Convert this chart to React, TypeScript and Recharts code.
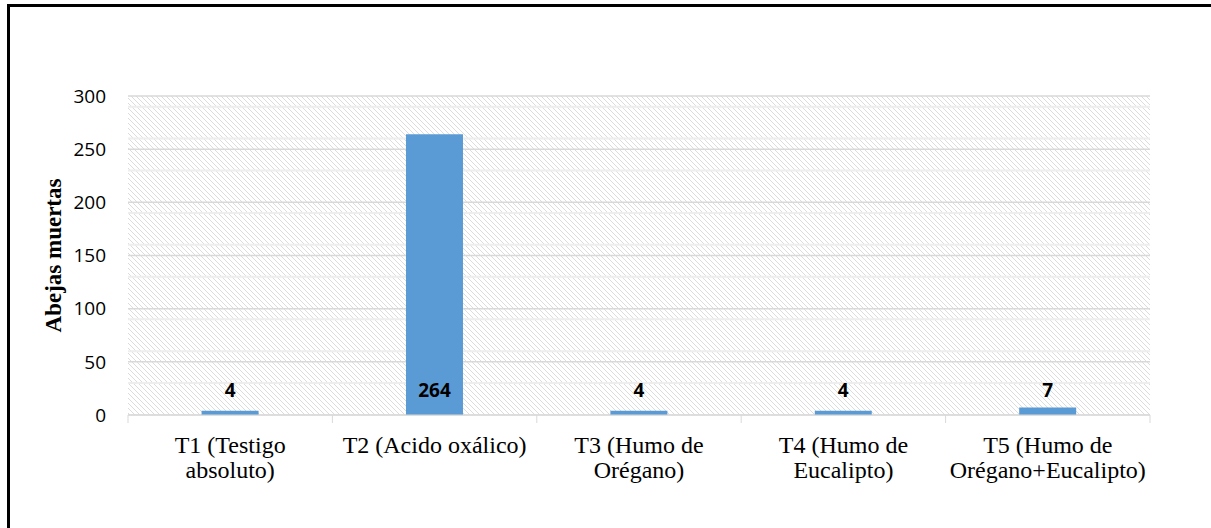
import React from 'react';
import { BarChart, Bar, XAxis, YAxis, CartesianGrid, LabelList } from 'recharts';

const categories = [
  'T1 (Testigo\nabsoluto)',
  'T2 (Acido oxálico)',
  'T3 (Humo de\nOrégano)',
  'T4 (Humo de\nEucalipto)',
  'T5 (Humo de\nOrégano+Eucalipto)',
];
const deadBees = [4, 264, 4, 4, 7];
const yTicks = [0, 50, 100, 150, 200, 250, 300];
const minorLines = [10, 20, 30, 40, 60, 70, 80, 90, 110, 120, 130, 140, 160, 170, 180, 190, 210, 220, 230, 240, 260, 270, 280, 290];

const data = categories.map((name, i) => ({ name, value: deadBees[i] }));

const W = 1211;
const H = 528;
const margin = { top: 96, right: 61, bottom: 53, left: 68 };
const yAxisWidth = 60;
const bandHalf = (W - margin.left - margin.right - yAxisWidth) / categories.length / 2;

const serif = '"Liberation Serif", "Times New Roman", serif';
const sans = '"Open Sans", Calibri, sans-serif';

function CategoryTick(props: any) {
  const { x, y, payload, index } = props;
  const half = payload.offset || bandHalf;
  const lines = String(payload.value).split('\n');
  return (
    <g>
      <line x1={x - half} x2={x - half} y1={y} y2={y + 8} stroke="#d9d9d9" />
      {index === categories.length - 1 && (
        <line x1={x + half} x2={x + half} y1={y} y2={y + 8} stroke="#d9d9d9" />
      )}
      {lines.map((t, i) => (
        <text key={i} x={x} y={y + 38 + i * 25} textAnchor="middle" fontFamily={serif} fontSize={24} fill="#000">
          {t}
        </text>
      ))}
    </g>
  );
}

function ValueLabel(props: any) {
  const { x, y, width, height, value } = props;
  const bottom = y + height;
  return (
    <text x={x + width / 2} y={bottom - 18} textAnchor="middle" fontFamily={sans} fontWeight="bold" fontSize={19} fill="#000">
      {value}
    </text>
  );
}

function AxisTitle(props: any) {
  const { viewBox } = props;
  const cx = viewBox.x - 15;
  const cy = viewBox.y + viewBox.height / 2;
  return (
    <text
      transform={`translate(${cx},${cy}) rotate(-90)`}
      textAnchor="middle"
      dominantBaseline="central"
      fontFamily={serif}
      fontWeight="bold"
      fontSize={23}
      fill="#000"
    >
      Abejas muertas
    </text>
  );
}

export default function App() {
  return (
    <div style={{ position: 'fixed', left: 0, top: 0, width: W, height: H, overflow: 'hidden', background: '#fff' }}>
      <svg width={0} height={0} style={{ position: 'absolute' }}>
        <defs>
          <pattern id="hatch" width={5} height={5} patternUnits="userSpaceOnUse">
            <rect width={5} height={5} fill="#ffffff" />
            <path d="M-1,-1 L6,6 M-1,4 L1,6 M4,-1 L6,1" stroke="#dcdcdc" strokeWidth={1} />
          </pattern>
        </defs>
      </svg>
      <div style={{ position: 'absolute', left: 7, top: 4, width: 1400, height: 800, border: '3px solid #000' }} />
      <div style={{ position: 'absolute', left: 0, top: 0 }}>
        <BarChart width={W} height={H} data={data} margin={margin} barCategoryGap="36%">
          <CartesianGrid
            horizontal
            vertical={false}
            fill="url(#hatch)"
            fillOpacity={1}
            stroke="#eeeeee"
            strokeWidth={2}
            horizontalValues={minorLines}
          />
          <CartesianGrid horizontal vertical={false} stroke="#d9d9d9" strokeWidth={1.5} horizontalValues={yTicks} />
          <XAxis
            dataKey="name"
            interval={0}
            axisLine={{ stroke: '#d9d9d9' }}
            tickLine={false}
            tickSize={0}
            tickMargin={0}
            height={60}
            tick={<CategoryTick />}
          />
          <YAxis
            domain={[0, 300]}
            ticks={yTicks}
            width={yAxisWidth}
            axisLine={false}
            tickLine={false}
            tickMargin={16}
            tick={{ fontFamily: sans, fontSize: 19, fill: '#000' }}
            label={{ content: <AxisTitle /> }}
          />
          <Bar dataKey="value" fill="#5b9bd5" isAnimationActive={false}>
            <LabelList dataKey="value" content={<ValueLabel />} />
          </Bar>
        </BarChart>
      </div>
    </div>
  );
}
